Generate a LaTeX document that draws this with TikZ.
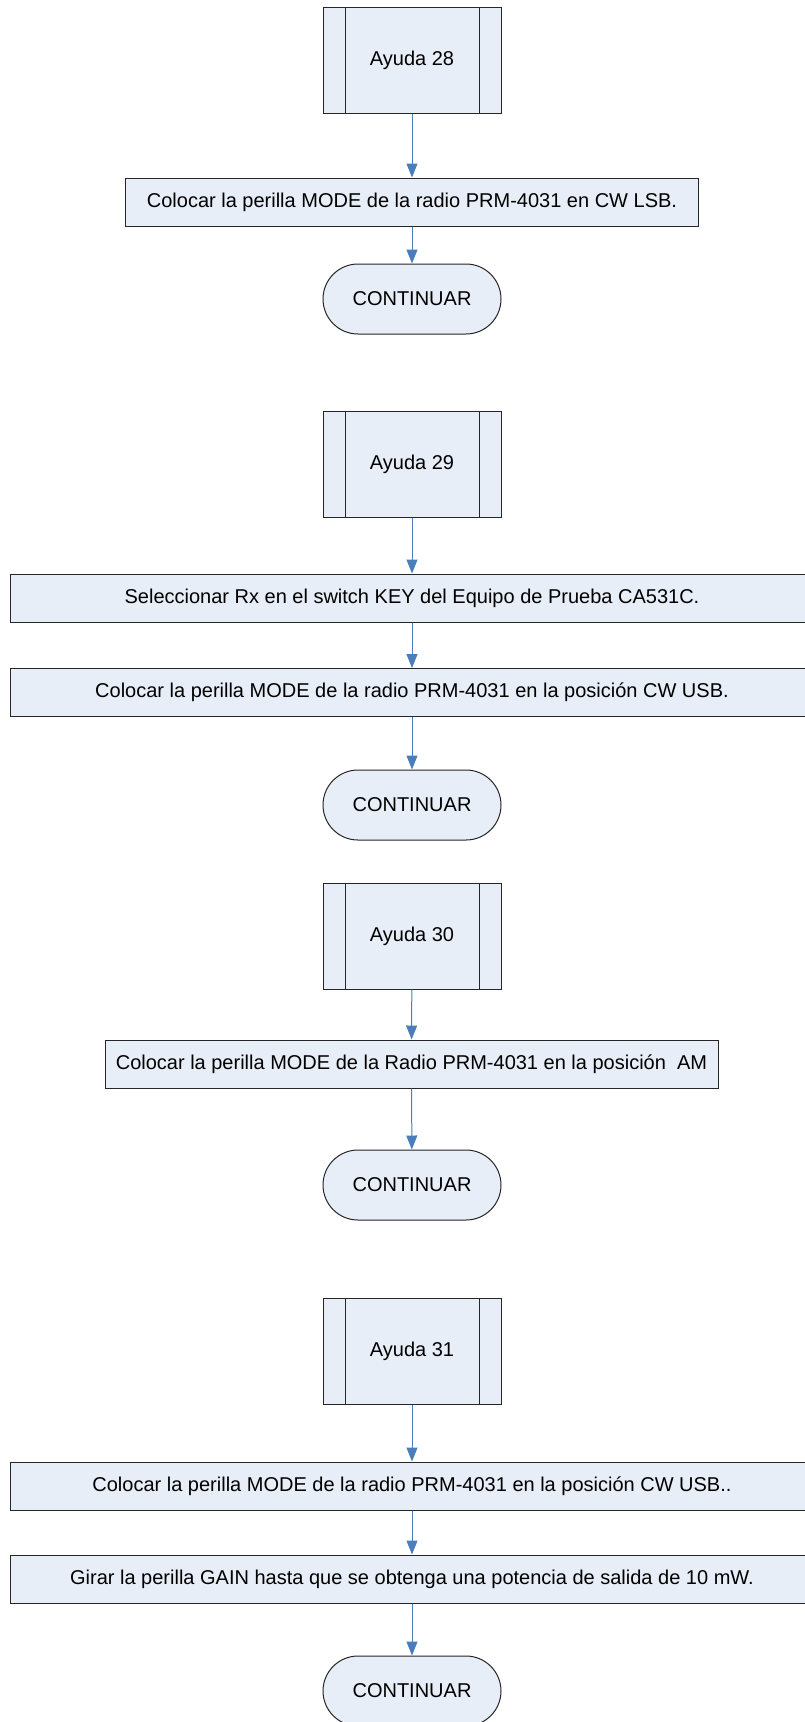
\documentclass[tikz,border=0pt]{standalone}
\usepackage{fontspec}
\setmainfont{Liberation Sans}
\usetikzlibrary{arrows.meta}
\definecolor{boxfill}{HTML}{E8EEF7}
\definecolor{flowline}{HTML}{4A7EBB}

\begin{document}
\begin{tikzpicture}[x=1pt, y=-1pt,
           > = {Triangle[length=14pt, width=11pt]},
every node/.style = {font=\fontsize{20}{24}\selectfont, inner sep=2pt},
  process/.style = {draw=black!85, line width=1pt, fill=boxfill,
                    minimum height=48pt},% plain steps
  subproc/.style = {process, minimum width=178pt, minimum height=106pt,
                    path picture={% side bars of a predefined process
     \draw[black!85, line width=1pt]
       ([xshift=22pt]path picture bounding box.north west) --
       ([xshift=22pt]path picture bounding box.south west)
       ([xshift=-22pt]path picture bounding box.north east) --
       ([xshift=-22pt]path picture bounding box.south east);}},
 terminal/.style = {process, rounded corners=35pt,
                    minimum width=178pt, minimum height=70pt},
     flow/.style = {->, flowline, line width=1pt},
]
\useasboundingbox (0,0) rectangle (805,1722);

% ayuda 28
\node[subproc] (a28) at (412,60) {Ayuda 28};
\node[process, minimum width=573pt] (b1) at (412,202)
  {Colocar la perilla MODE de la radio PRM-4031 en CW LSB.};
\node[terminal] (c1) at (412,299) {CONTINUAR};

% ayuda 29
\node[subproc] (a29) at (412,464) {Ayuda 29};
\node[process, minimum width=804pt] (b2) at (412,598)
  {Seleccionar Rx en el switch KEY del Equipo de Prueba CA531C.};
\node[process, minimum width=804pt] (b3) at (412,692.5)
  {Colocar la perilla MODE de la radio PRM-4031 en la posición CW USB.};
\node[terminal] (c2) at (412,805) {CONTINUAR};

% ayuda 30
\node[subproc] (a30) at (412,936) {Ayuda 30};
\node[process, minimum width=613pt] (b4) at (411.5,1064)
  {Colocar la perilla MODE de la Radio PRM-4031 en la posición\ \ AM};
\node[terminal] (c3) at (412,1185) {CONTINUAR};

% ayuda 31
\node[subproc] (a31) at (412,1351.5) {Ayuda 31};
\node[process, minimum width=804pt] (b5) at (412,1486)
  {Colocar la perilla MODE de la radio PRM-4031 en la posición CW USB..};
\node[process, minimum width=804pt] (b6) at (412,1579)
  {Girar la perilla GAIN hasta que se obtenga una potencia de salida de 10 mW.};
\node[terminal] (c4) at (412,1691) {CONTINUAR};

% connections
\foreach \a/\b in {a28/b1, b1/c1, a29/b2, b2/b3, b3/c2,
                   a30/b4, b4/c3, a31/b5, b5/b6, b6/c4}
  \draw[flow] (\a) -- (\b);
\end{tikzpicture}
\end{document}
